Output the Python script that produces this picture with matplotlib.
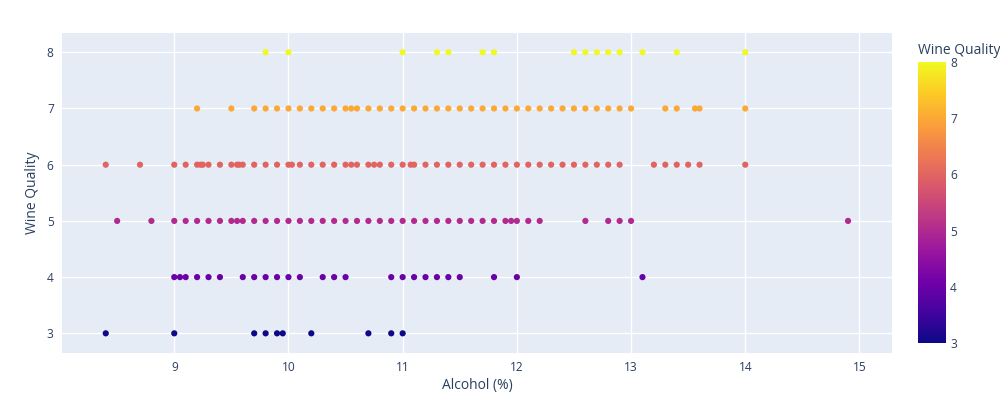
import matplotlib
matplotlib.use("Agg")
import matplotlib.pyplot as plt
import numpy as np
from matplotlib.colors import LinearSegmentedColormap, Normalize

# Alcohol (%) values observed for each wine quality level
alcohol_q3 = [8.4, 9.0, 9.7, 9.8, 9.9, 9.95, 10.2, 10.7, 10.9, 11.0]
alcohol_q4 = [9.0, 9.05, 9.1, 9.2, 9.3, 9.4, 9.6, 9.7, 9.8, 9.9, 10.0, 10.1, 10.3, 10.4, 10.5,
              10.9, 11.0, 11.1, 11.2, 11.3, 11.4, 11.5, 11.8, 12.0, 13.1]
alcohol_q5 = [8.5, 8.8, 9.0, 9.1, 9.2, 9.3, 9.4, 9.5, 9.55, 9.6, 9.7, 9.8, 9.9, 10.0, 10.1, 10.2,
              10.3, 10.4, 10.5, 10.6, 10.7, 10.8, 10.9, 11.0, 11.1, 11.2, 11.3, 11.4, 11.5, 11.6,
              11.7, 11.8, 11.9, 11.95, 12.0, 12.1, 12.2, 12.6, 12.8, 12.9, 13.0, 14.9]
alcohol_q6 = [8.4, 8.7, 9.0, 9.1, 9.2, 9.23, 9.25, 9.3, 9.4, 9.5, 9.55, 9.57, 9.6, 9.7, 9.8, 9.9,
              10.0, 10.03, 10.1, 10.2, 10.3, 10.4, 10.5, 10.55, 10.6, 10.7, 10.75, 10.8, 10.9, 11.0,
              11.07, 11.1, 11.2, 11.3, 11.4, 11.5, 11.6, 11.7, 11.8, 11.9, 12.0, 12.1, 12.2, 12.3,
              12.4, 12.5, 12.6, 12.7, 12.8, 12.9, 13.2, 13.3, 13.4, 13.5, 13.6, 14.0]
alcohol_q7 = [9.2, 9.5, 9.7, 9.8, 9.9, 10.0, 10.1, 10.2, 10.3, 10.4, 10.5, 10.55, 10.6, 10.7, 10.8,
              10.9, 11.0, 11.1, 11.2, 11.3, 11.4, 11.5, 11.6, 11.7, 11.8, 11.9, 12.0, 12.1, 12.2,
              12.3, 12.4, 12.5, 12.6, 12.7, 12.8, 12.9, 13.0, 13.3, 13.4, 13.56, 13.6, 14.0]
alcohol_q8 = [9.8, 10.0, 11.0, 11.3, 11.4, 11.7, 11.8, 12.5, 12.6, 12.7, 12.8, 12.9, 13.1, 13.4, 14.0]

quality_levels = [3, 4, 5, 6, 7, 8]
alcohol_by_quality = [alcohol_q3, alcohol_q4, alcohol_q5, alcohol_q6, alcohol_q7, alcohol_q8]

x_ticks = [9, 10, 11, 12, 13, 14, 15]
y_ticks = [3, 4, 5, 6, 7, 8]

alcohol = np.concatenate([np.array(a, dtype=float) for a in alcohol_by_quality])
quality = np.concatenate([np.full(len(a), q, dtype=float) for q, a in zip(quality_levels, alcohol_by_quality)])

plasma_colors = ["#0d0887", "#46039f", "#7201a8", "#9c179e", "#bd3786",
                 "#d8576b", "#ed7953", "#fb9f3a", "#fdca26", "#f0f921"]
cmap = LinearSegmentedColormap.from_list("plotly_plasma", plasma_colors)
norm = Normalize(vmin=3, vmax=8)

text_color = "#2a3f5f"
plt.rcParams['font.family'] = ['Open Sans', 'DejaVu Sans']

W, H = 1000, 394
fig = plt.figure(figsize=(W / 100, H / 100), dpi=100)
fig.patch.set_facecolor("white")

L, R, T, B = 62, 892, 33, 353
ax = fig.add_axes([L / W, 1 - B / H, (R - L) / W, (B - T) / H])
ax.set_facecolor("#E5ECF6")
for s in ax.spines.values():
    s.set_visible(False)

ax.set_xlim(8.017, 15.285)
ax.set_ylim(2.65, 8.343)
ax.set_xticks(x_ticks)
ax.set_yticks(y_ticks)
ax.grid(True, color="white", linewidth=1.0)
ax.set_axisbelow(True)
ax.tick_params(axis="both", length=0, labelsize=8.6, labelcolor=text_color)
ax.tick_params(axis="y", pad=6)
ax.tick_params(axis="x", pad=6)

ax.scatter(alcohol, quality, c=quality, cmap=cmap, norm=norm, s=20, linewidths=0, zorder=3)

fig.text((L + R) / 2 / W, 1 - 385 / H, "Alcohol (%)", fontsize=10, color=text_color,
         ha="center", va="center")
fig.text(32 / W, 1 - (T + B) / 2 / H, "Wine Quality", fontsize=10, color=text_color,
         ha="center", va="center", rotation=90)

# Colorbar
cL, cR, cT, cB = 918, 946, 62, 343
cax = fig.add_axes([cL / W, 1 - cB / H, (cR - cL) / W, (cB - cT) / H])
sm = matplotlib.cm.ScalarMappable(norm=norm, cmap=cmap)
cb = fig.colorbar(sm, cax=cax)
cb.outline.set_visible(False)
cb.set_ticks(y_ticks)
cax.tick_params(length=0, labelsize=8.6, labelcolor=text_color, pad=3)
fig.text(cL / W, 1 - 54 / H, "Wine Quality", fontsize=10, color=text_color, ha="left", va="baseline")

fig.savefig("out.png", dpi=100)
